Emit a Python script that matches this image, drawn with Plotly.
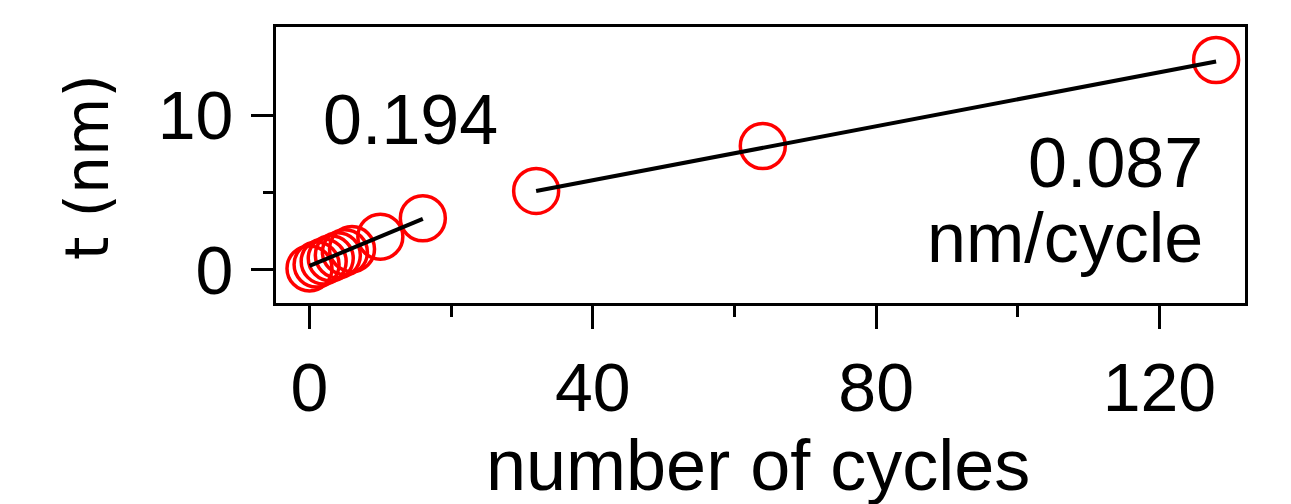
import plotly.graph_objects as go

# data
cycles = [0, 1, 2, 3, 4, 5, 6, 10, 16, 32, 64, 128]
thickness = [0.1, 0.35, 0.55, 0.75, 0.95, 1.15, 1.35, 2.15, 3.34, 5.1, 8.0, 13.55]

fit1_x = [0, 16]
fit1_y = [0.26, 3.3]
fit2_x = [32, 128]
fit2_y = [5.1, 13.45]

x_ticks = [0, 40, 80, 120]
y_ticks = [0, 10]

W, H = 1291, 504
L, R, T, B = 276, 46, 27, 201
FONT = "Liberation Sans, Arial, sans-serif"

fig = go.Figure()
fig.add_trace(go.Scatter(x=cycles, y=thickness, mode="markers",
                         marker=dict(symbol="circle-open", size=45, color="#ff0000",
                                     line=dict(width=3.5, color="#ff0000")),
                         showlegend=False, cliponaxis=False))
fig.add_trace(go.Scatter(x=fit1_x, y=fit1_y, mode="lines",
                         line=dict(color="black", width=4), showlegend=False))
fig.add_trace(go.Scatter(x=fit2_x, y=fit2_y, mode="lines",
                         line=dict(color="black", width=4), showlegend=False))

def px(xp):
    return (xp - L) / (W - L - R)

def py(yp):
    return (H - B - yp) / (H - T - B)

fig.update_layout(
    width=W, height=H,
    margin=dict(l=L, r=R, t=T, b=B, pad=0),
    plot_bgcolor="white", paper_bgcolor="white",
    font=dict(family=FONT, size=70, color="black"),
    xaxis=dict(range=[-4.73, 132.08], tickvals=x_ticks, ticks="outside", ticklen=23,
               tickwidth=3, tickcolor="black", showline=True, linewidth=3,
               linecolor="black", mirror=True, showgrid=False, zeroline=False,
               tickfont=dict(family=FONT, size=68),
               minor=dict(tickvals=[20, 60, 100], ticks="outside", ticklen=11,
                          tickwidth=3, tickcolor="black")),
    yaxis=dict(range=[-2.13, 15.68], tickvals=y_ticks, ticks="outside", ticklen=22,
               tickwidth=3, tickcolor="black", showline=True, linewidth=3,
               linecolor="black", mirror=True, showgrid=False, zeroline=False,
               tickfont=dict(family=FONT, size=68), ticklabelstandoff=4,
               minor=dict(tickvals=[5], ticks="outside", ticklen=10,
                          tickwidth=3, tickcolor="black")),
)

fig.add_annotation(text="0.194", xref="paper", yref="paper", x=px(410), y=py(120),
                   xanchor="center", yanchor="middle", showarrow=False,
                   font=dict(family=FONT, size=70))
fig.add_annotation(text="0.087", xref="paper", yref="paper", x=px(1205), y=py(163),
                   xanchor="right", yanchor="middle", showarrow=False,
                   font=dict(family=FONT, size=70))
fig.add_annotation(text="nm/cycle", xref="paper", yref="paper", x=px(1205), y=py(238),
                   xanchor="right", yanchor="middle", showarrow=False,
                   font=dict(family=FONT, size=70))
fig.add_annotation(text="number of cycles", xref="paper", yref="paper", x=px(758), y=py(465),
                   xanchor="center", yanchor="middle", showarrow=False,
                   font=dict(family=FONT, size=72))
fig.add_annotation(text="t (nm)", xref="paper", yref="paper", x=px(87), y=py(167),
                   xanchor="center", yanchor="middle", textangle=-90, showarrow=False,
                   font=dict(family="DejaVu Sans", size=60))

fig.write_html("out.html")
